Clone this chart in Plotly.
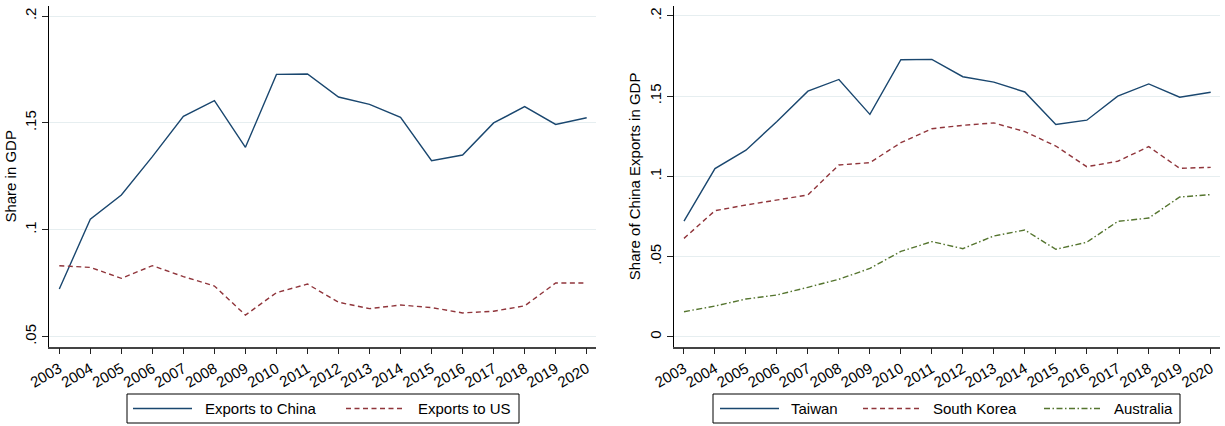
import plotly.graph_objects as go

years = list(range(2003, 2021))
year_labels = [str(y) for y in years]

exports_china = [0.0723, 0.1049, 0.1163, 0.1342, 0.1531, 0.1604, 0.1386, 0.1727, 0.1729,
                 0.1621, 0.1587, 0.1526, 0.1323, 0.1350, 0.1500, 0.1576, 0.1493, 0.1524]
exports_us = [0.0832, 0.0824, 0.0773, 0.0832, 0.0781, 0.0737, 0.0601, 0.0706, 0.0746,
              0.0661, 0.0631, 0.0648, 0.0636, 0.0611, 0.0619, 0.0644, 0.0751, 0.0751]

taiwan = [0.0721, 0.1048, 0.1163, 0.1342, 0.1531, 0.1604, 0.1386, 0.1727, 0.1729,
          0.1621, 0.1587, 0.1526, 0.1323, 0.1350, 0.1500, 0.1576, 0.1493, 0.1524]
south_korea = [0.0613, 0.0786, 0.0821, 0.0852, 0.0884, 0.1071, 0.1085, 0.1210, 0.1297,
               0.1318, 0.1333, 0.1279, 0.1189, 0.1060, 0.1094, 0.1185, 0.1050, 0.1056]
australia = [0.0156, 0.0191, 0.0235, 0.0260, 0.0308, 0.0358, 0.0426, 0.0532, 0.0593,
             0.0549, 0.0628, 0.0665, 0.0545, 0.0589, 0.0719, 0.0740, 0.0871, 0.0886]

left_yticks = [0.05, 0.10, 0.15, 0.20]
left_ytext = [".05", ".1", ".15", ".2"]
right_yticks = [0.0, 0.05, 0.10, 0.15, 0.20]
right_ytext = ["0", ".05", ".1", ".15", ".2"]

NAVY = "#1A476F"
MAROON = "#90353B"
GREEN = "#55752F"
GRID = "#E6EEF0"
FONT = "Liberation Sans, Arial, sans-serif"
DASH_SK = "5px,3.5px"
DASH_AU = "6px,2.5px,1.5px,2.5px"
LW = 1.4

W, H = 1225, 426


def px_x(p):
    return p / W


def px_y(p):
    return (H - p) / H


fig = go.Figure()

fig.add_trace(go.Scatter(x=years, y=exports_china, mode="lines", name="Exports to China",
                         line=dict(color=NAVY, width=LW), xaxis="x", yaxis="y"))
fig.add_trace(go.Scatter(x=years, y=exports_us, mode="lines", name="Exports to US",
                         line=dict(color=MAROON, width=LW, dash=DASH_SK), xaxis="x", yaxis="y"))
fig.add_trace(go.Scatter(x=years, y=taiwan, mode="lines", name="Taiwan",
                         line=dict(color=NAVY, width=LW), xaxis="x2", yaxis="y2"))
fig.add_trace(go.Scatter(x=years, y=south_korea, mode="lines", name="South Korea",
                         line=dict(color=MAROON, width=LW, dash=DASH_SK), xaxis="x2", yaxis="y2"))
fig.add_trace(go.Scatter(x=years, y=australia, mode="lines", name="Australia",
                         line=dict(color=GREEN, width=LW, dash=DASH_AU), xaxis="x2", yaxis="y2"))

ydom = [px_y(346.7), px_y(6)]

xcommon = dict(
    range=[2002.668, 2020.30], tickmode="array", tickvals=years, ticktext=year_labels,
    tickangle=-30, ticks="outside", ticklen=6, tickwidth=1, tickcolor="#222",
    showline=True, linecolor="#444", linewidth=1.5, showgrid=False, zeroline=False,
    tickfont=dict(family=FONT, size=15, color="#000"), fixedrange=True, automargin=False,
)
ycommon = dict(
    tickangle=-90, ticks="outside", ticklen=6, tickwidth=1, tickcolor="#222",
    showline=True, linecolor="#000", linewidth=1, showgrid=True, gridcolor=GRID, gridwidth=1,
    zeroline=False, tickfont=dict(family=FONT, size=15, color="#000"), fixedrange=True,
    automargin=False,
)

# custom legends (Stata-style boxes with long keys)
legend_specs = [
    (127, 519, [(133, 192, 203, "Exports to China", NAVY, "solid"),
                (346, 405, 416, "Exports to US", MAROON, DASH_SK)]),
    (713, 1180, [(720, 779, 789, "Taiwan", NAVY, "solid"),
                 (863, 921, 931, "South Korea", MAROON, DASH_SK),
                 (1044, 1102, 1112, "Australia", GREEN, DASH_AU)]),
]
shapes = []
annotations = []
for bx0, bx1, entries in legend_specs:
    shapes.append(dict(type="rect", xref="paper", yref="paper",
                       x0=px_x(bx0), x1=px_x(bx1), y0=px_y(423), y1=px_y(394),
                       line=dict(color="#000", width=1), fillcolor="white"))
    for lx0, lx1, tx, label, color, dash in entries:
        shapes.append(dict(type="line", xref="paper", yref="paper",
                           x0=px_x(lx0), x1=px_x(lx1), y0=px_y(408.5), y1=px_y(408.5),
                           line=dict(color=color, width=LW, dash=dash)))
        annotations.append(dict(text=label, xref="paper", yref="paper", x=px_x(tx), y=px_y(408.5),
                                xanchor="left", yanchor="middle", showarrow=False,
                                font=dict(family=FONT, size=15, color="#000")))

fig.update_layout(
    width=W, height=H,
    margin=dict(l=0, r=0, t=0, b=0),
    paper_bgcolor="white", plot_bgcolor="white",
    font=dict(family=FONT, size=15, color="#000"),
    showlegend=False,
    xaxis=dict(domain=[px_x(49), px_x(596)], anchor="y", **xcommon),
    yaxis=dict(domain=ydom, anchor="x", range=[0.0453, 0.2047], tickvals=left_yticks,
               ticktext=left_ytext,
               title=dict(text="Share in GDP", font=dict(family=FONT, size=15), standoff=1),
               **ycommon),
    xaxis2=dict(domain=[px_x(673.7), px_x(1220)], anchor="y2", **xcommon),
    yaxis2=dict(domain=ydom, anchor="x2", range=[-0.00623, 0.2062], tickvals=right_yticks,
                ticktext=right_ytext,
                title=dict(text="Share of China Exports in GDP", font=dict(family=FONT, size=15),
                           standoff=2),
                **ycommon),
    shapes=shapes,
    annotations=annotations,
)

fig.write_html("out.html")
